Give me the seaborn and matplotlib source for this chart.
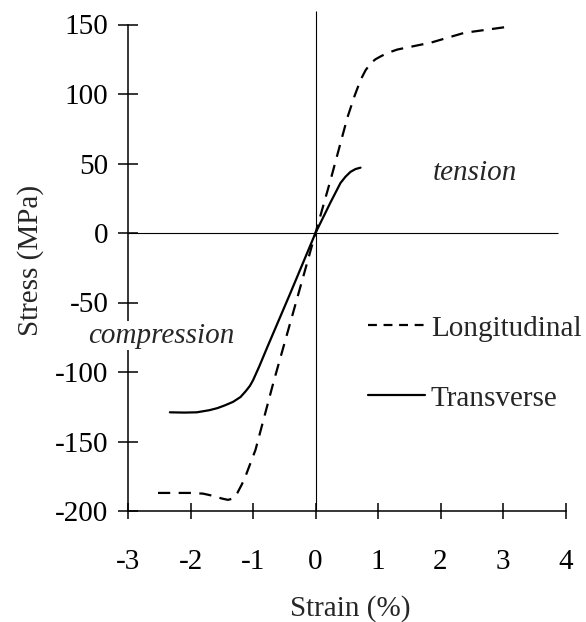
import numpy as np
import pandas as pd
import matplotlib.pyplot as plt
import seaborn as sns
from matplotlib.lines import Line2D

# strain (%) / stress (MPa)
long_strain = [-2.52, -2.0, -1.8, -1.65, -1.5, -1.40, -1.32, -1.25, -1.18, -1.12, -0.96,
               -0.67, -0.35, 0.0, 0.24, 0.51, 0.62, 0.72, 0.8, 0.88, 0.96, 1.04, 1.15,
               1.31, 1.85, 2.38, 3.02]
long_stress = [-187, -187, -187.5, -189, -191, -192, -191, -187, -181, -175, -156,
               -107, -56, 0, 38, 83, 98, 110, 117, 122, 125, 127, 129.5,
               132, 137, 144, 148]
trans_strain = [-2.33, -2.1, -1.9, -1.7, -1.57, -1.45, -1.32, -1.2, -1.12, -1.05, -1.0,
                -0.9, -0.77, -0.4, 0.0, 0.24, 0.4, 0.48, 0.56, 0.64, 0.72]
trans_stress = [-129, -129.2, -129, -127.5, -126, -124, -121.5, -118, -114, -110, -106,
                -96, -82, -43, 0, 22, 36, 40.5, 44, 46, 47]

x_ticks = [-3, -2, -1, 0, 1, 2, 3, 4]
y_ticks = [-200, -150, -100, -50, 0, 50, 100, 150]

df = pd.concat([
    pd.DataFrame({"strain": long_strain, "stress": long_stress, "kind": "Longitudinal"}),
    pd.DataFrame({"strain": trans_strain, "stress": trans_stress, "kind": "Transverse"}),
])

sns.set_style("white")
plt.rcParams['font.family'] = ['Liberation Serif', 'DejaVu Serif']

fig = plt.figure(figsize=(5.86, 6.22), dpi=100)
ax = fig.add_axes([128/586, 1-511/622, 443.75/586, 500.4/622])

dash_map = {"Longitudinal": (5.5, 3.8), "Transverse": ""}
sns.lineplot(data=df, x="strain", y="stress", style="kind", dashes=dash_map,
             color="black", linewidth=1.6, sort=False, estimator=None,
             legend=False, ax=ax)

ax.hlines(0, -3, 3.88, color="black", linewidth=0.8)
ax.vlines(0, -200, 160, color="black", linewidth=0.8)

ax.set_xlim(-3, 4.1)
ax.set_ylim(-200, 160)
ax.set_xticks(x_ticks)
ax.set_yticks(y_ticks)
ax.set_xticklabels([str(v) for v in x_ticks])
ax.set_yticklabels([str(v) for v in y_ticks])

for s in ["top", "right"]:
    ax.spines[s].set_visible(False)
ax.spines["left"].set_bounds(-200, 150)
ax.spines["bottom"].set_bounds(-3, 4)
for s in ["left", "bottom"]:
    ax.spines[s].set_linewidth(1.1)
    ax.spines[s].set_color("black")

ax.tick_params(axis="y", left=True, direction="inout", length=14.4, width=1.1, pad=7,
               labelsize=21, colors="black")
ax.tick_params(axis="x", bottom=True, direction="inout", length=12.2, width=1.1, pad=21.5,
               labelsize=21, colors="black")

ax.set_xlabel("Strain (%)", fontsize=21, labelpad=14.5)
ax.set_ylabel("Stress (MPa)", fontsize=21, labelpad=8)

ax.text(2.55, 43, "tension", fontsize=21, style="italic", ha="center", va="center")
ax.text(-2.46, -74, "compression", fontsize=21, style="italic", ha="center", va="center",
        zorder=5, bbox=dict(facecolor="white", edgecolor="none", pad=1))

handles = [Line2D([], [], color="black", linewidth=1.6, dashes=(4.0, 3.0)),
           Line2D([], [], color="black", linewidth=1.6)]
ax.legend(handles, ["Longitudinal", "Transverse"], loc="center left",
          bbox_to_anchor=(0.541, 0.295), frameon=False, fontsize=21,
          handlelength=1.95, handletextpad=0.2, labelspacing=1.5,
          borderpad=0, borderaxespad=0)

fig.savefig("out.png", dpi=100)
